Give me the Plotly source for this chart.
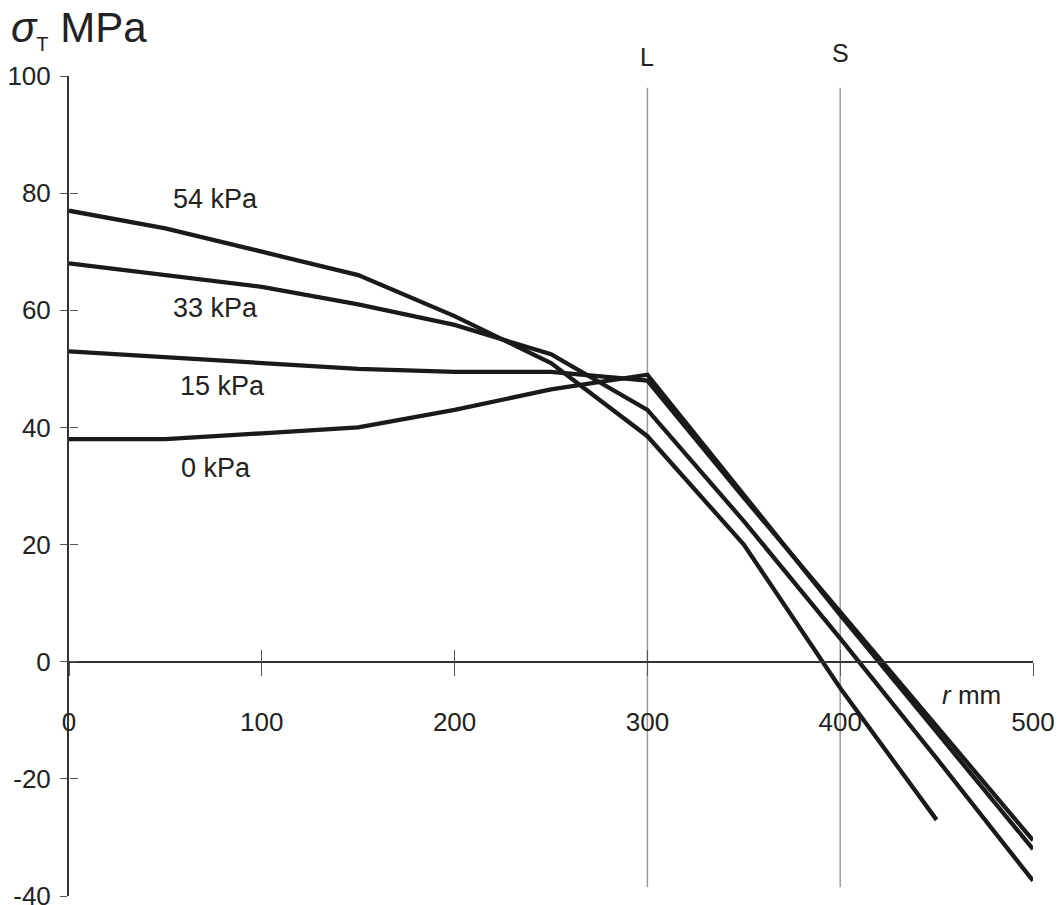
import plotly.graph_objects as go

# ---- data ----
r_mm = [0, 50, 100, 150, 200, 250, 300, 350, 400, 450, 500]
sigma_54kPa = [77, 74, 70, 66, 59, 51, 38.5, 20, -4.5, -27]
sigma_33kPa = [68, 66, 64, 61, 57.5, 52.5, 43, 24, 4, -16.5, -37.4]
sigma_15kPa = [53, 52, 51, 50, 49.5, 49.5, 48, 28, 8.5, -11, -30.5]
sigma_0kPa = [38, 38, 39, 40, 43, 46.5, 49, 28.5, 8, -12, -32]
series_names = ["54 kPa", "33 kPa", "15 kPa", "0 kPa"]
x_ticks = [0, 100, 200, 300, 400, 500]
y_ticks = [-40, -20, 0, 20, 40, 60, 80, 100]
y_ticktext = ["-40", "-20", "0", "20", "40", "60", "80", "100"]
ref_line_names = ["L", "S"]
ref_line_r = [300, 400]

X_RANGE = [0, 500]
Y_RANGE = [-40, 100]
FONT = "Liberation Sans, Arial, sans-serif"
TXT = "#222222"
LINE = "#1a1a1a"

fig = go.Figure()

series = [sigma_54kPa, sigma_33kPa, sigma_15kPa, sigma_0kPa]
for name, vals in zip(series_names, series):
    fig.add_trace(go.Scatter(
        x=r_mm[:len(vals)], y=vals, mode="lines", name=name,
        line=dict(color=LINE, width=4.3), showlegend=False,
    ))

# empty trace so the overlay axes (inner tick halves) are drawn
fig.add_trace(go.Scatter(x=[], y=[], xaxis="x2", yaxis="y2", showlegend=False, hoverinfo="skip"))

# reference vertical lines L and S
label_y = {"L": 1.0226, "S": 1.028}
for lab, xv in zip(ref_line_names, ref_line_r):
    fig.add_shape(type="line", xref="x", yref="y", x0=xv, x1=xv, y0=-38.5, y1=98,
                  line=dict(color="#9a9a9a", width=1.5), layer="below")
    fig.add_annotation(x=xv, y=label_y[lab], xref="x", yref="paper", xanchor="center",
                       yanchor="middle", text=lab, showarrow=False,
                       font=dict(size=25, color=TXT, family=FONT))

# curve labels
label_pos = {"54 kPa": (76, 79), "33 kPa": (76, 60.4), "15 kPa": (79.5, 47), "0 kPa": (76, 33.1)}
for name in series_names:
    lx, ly = label_pos[name]
    fig.add_annotation(x=lx, y=ly, xref="x", yref="y", text=name, showarrow=False,
                       font=dict(size=27, color=TXT, family=FONT))

# axis titles
fig.add_annotation(x=468, y=-5.6, xref="x", yref="y", text="<i>r</i> mm", showarrow=False,
                   font=dict(size=26, color=TXT, family=FONT))
fig.add_annotation(x=-0.062, y=1.057, xref="paper", yref="paper", xanchor="left", yanchor="middle",
                   text="<i>σ</i><sub><span style='font-size:20px'>T</span></sub> MPa",
                   showarrow=False, font=dict(size=42, color=TXT, family=FONT))

zero_pos = (0 - Y_RANGE[0]) / (Y_RANGE[1] - Y_RANGE[0])

fig.update_layout(
    width=1056, height=897,
    margin=dict(l=61, r=31, t=68, b=9, autoexpand=False),
    paper_bgcolor="white", plot_bgcolor="white",
    font=dict(family=FONT, color=TXT, size=26),
    xaxis=dict(range=X_RANGE, anchor="free", position=zero_pos, showgrid=False, zeroline=False,
               automargin=False, showline=True, linecolor="#333", linewidth=2,
               tickvals=x_ticks, ticks="outside", ticklen=13, tickwidth=1.2, tickcolor="#555",
               ticklabelstandoff=24, tickfont=dict(size=26, color=TXT)),
    xaxis2=dict(range=X_RANGE, overlaying="x", anchor="free", position=zero_pos, showgrid=False,
                automargin=False, zeroline=False, showline=False, tickvals=x_ticks, ticks="inside",
                ticklen=12, tickwidth=1.2, tickcolor="#555", showticklabels=False),
    yaxis=dict(range=Y_RANGE, showgrid=False, zeroline=False, showline=True, linecolor="#333",
               automargin=False, linewidth=2, tickvals=y_ticks, ticktext=y_ticktext,
               ticks="outside", ticklen=7, tickwidth=1.2, tickcolor="#555", ticklabelstandoff=4,
               ticklabeloverflow="allow", tickfont=dict(size=26, color=TXT)),
    yaxis2=dict(range=Y_RANGE, overlaying="y", anchor="free", position=0, showgrid=False,
                automargin=False, zeroline=False, showline=False, tickvals=y_ticks, ticks="inside",
                ticklen=8, tickwidth=1.2, tickcolor="#555", showticklabels=False),
)

fig.write_html("out.html")
